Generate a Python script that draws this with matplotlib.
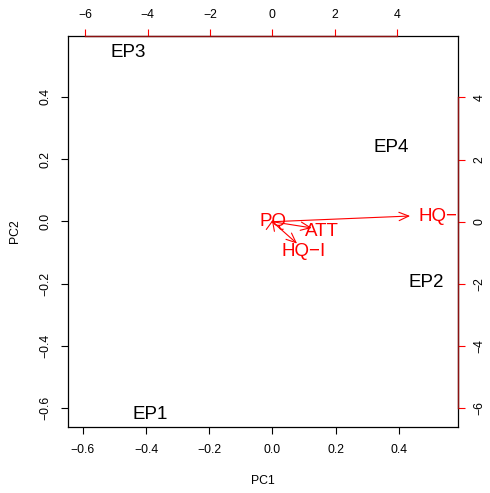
import matplotlib

matplotlib.use("Agg")
import matplotlib.pyplot as plt

plt.rcParams["font.family"] = ["Liberation Sans", "DejaVu Sans"]

# observation scores (PC1, PC2)
obs_labels = ["EP1", "EP2", "EP3", "EP4"]
pc1 = [-0.388, 0.486, -0.457, 0.375]
pc2 = [-0.613, -0.191, 0.548, 0.243]

# variable loadings (top/right scale)
var_labels = ["PQ", "ATT", "HQ\u2212I", "HQ\u2212E"]
load1 = [0.02, 1.58, 0.99, 5.52]
load2 = [0.087, -0.25, -0.88, 0.23]

main_ticks_x = [-0.6, -0.4, -0.2, 0.0, 0.2, 0.4]
main_ticks_y = [-0.6, -0.4, -0.2, 0.0, 0.2, 0.4]
var_ticks = [-6, -4, -2, 0, 2, 4]

fig = plt.figure(figsize=(4.9, 4.93), dpi=100)
pos = [68 / 490, 1 - 427 / 493, 390 / 490, 391 / 493]
ax = fig.add_axes(pos)
ax.set_xlim(-0.647, 0.587)
ax.set_ylim(-0.661, 0.596)
for name, x, y in zip(obs_labels, pc1, pc2):
    ax.text(x, y, name, ha="center", va="center_baseline", fontsize=13.5,
            color="black")
ax.set_xticks(main_ticks_x)
ax.set_yticks(main_ticks_y)
ax.set_xticklabels([f"{v:.1f}".replace("-", "\u2212") for v in main_ticks_x])
ax.set_yticklabels([f"{v:.1f}".replace("-", "\u2212") for v in main_ticks_y],
                   rotation=90, va="center")
ax.tick_params(labelsize=8.8, length=5, width=0.8, pad=7)
ax.set_xlabel("PC1", fontsize=8.8, labelpad=14)
ax.set_ylabel("PC2", fontsize=8.8, labelpad=13)
for s in ax.spines.values():
    s.set_linewidth(0.9)

# second axes for the loadings
ax2 = fig.add_axes(pos, frameon=False)
ax2.set_xlim(-6.55, 5.95)
ax2.set_ylim(-6.61, 5.98)
ax2.xaxis.tick_top()
ax2.yaxis.tick_right()
ax2.set_xticks(var_ticks)
ax2.set_yticks(var_ticks)
ax2.set_xticklabels([str(v).replace("-", "\u2212") for v in var_ticks])
ax2.set_yticklabels([str(v).replace("-", "\u2212") for v in var_ticks],
                    rotation=90, va="center")
ax2.tick_params(labelsize=8.8, length=5, width=0.8, pad=6, color="red")
ax2.plot([-6, 4], [5.98, 5.98], color="#8b1010", lw=1.0, clip_on=False)
ax2.plot([5.95, 5.95], [-6, 4], color="#8b1010", lw=1.0, clip_on=False)

for name, x, y in zip(var_labels, load1, load2):
    ax2.annotate("", xy=(0.8 * x, 0.8 * y), xytext=(0, 0),
                 arrowprops=dict(arrowstyle="->,head_length=0.7,head_width=0.3",
                                 color="red", lw=0.8, shrinkA=0, shrinkB=0,
                                 mutation_scale=10))
    ax2.text(x, y, name, ha="center", va="center_baseline", fontsize=13.5,
             color="red", clip_on=True)

fig.savefig("out.png", dpi=100)
